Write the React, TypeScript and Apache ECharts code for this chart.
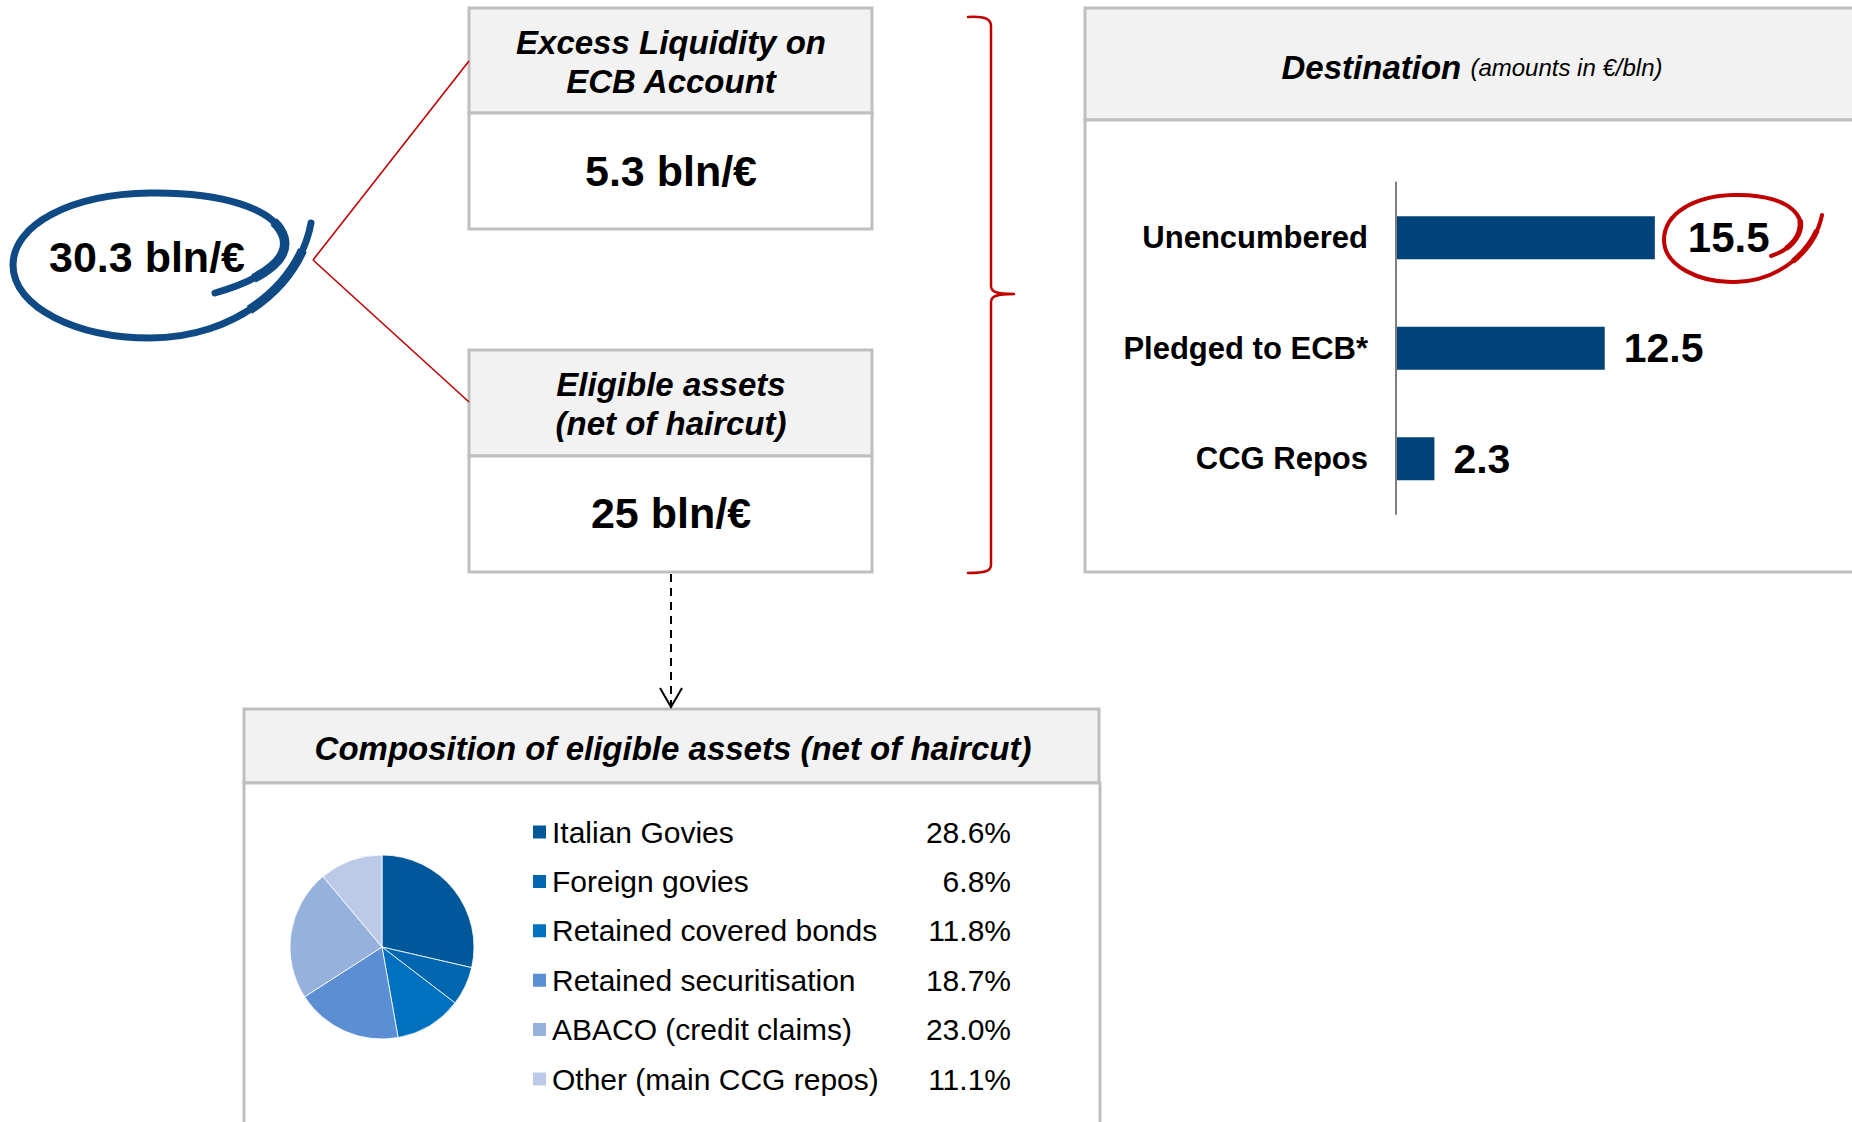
import React, { useEffect, useRef } from "react";
import * as echarts from "echarts";

// ---------- data ----------
const totalLabel = "30.3 bln/€";
const excessTitle = "Excess Liquidity on\nECB Account";
const excessValue = "5.3 bln/€";
const eligibleTitle = "Eligible assets\n(net of haircut)";
const eligibleValue = "25 bln/€";
const destinationTitle = "Destination";
const destinationSubtitle = "(amounts in €/bln)";
const destinationCategories = ["Unencumbered", "Pledged to ECB*", "CCG Repos"];
const destinationValues = [15.5, 12.5, 2.3];
const compositionTitle = "Composition of eligible assets (net of haircut)";
const compositionNames = [
  "Italian Govies",
  "Foreign govies",
  "Retained covered bonds",
  "Retained securitisation",
  "ABACO (credit claims)",
  "Other (main CCG repos)",
];
const compositionShares = [28.6, 6.8, 11.8, 18.7, 23.0, 11.1];
const compositionLabels = ["28.6%", "6.8%", "11.8%", "18.7%", "23.0%", "11.1%"];
const compositionColors = ["#00589a", "#0066b0", "#0070c0", "#5b8ed3", "#95b1dc", "#bccae8"];

const FONT = "'Liberation Sans', Arial, Helvetica, sans-serif";
const BORDER = "#bfbfbf";
const HEADER = "#f2f2f2";
const RED = "#c00000";
const OVAL_BLUE = "#0f4a85";

const BLUE_SWOOSH =
  "M 215 293 C 255 282 290 262 284 238 C 276 208 220 192 150 193 C 70 194 13 225 13 265 C 13 308 78 338 150 338 C 235 338 300 285 311 223";
const BLUE_THICK_A =
  "M 253.6 278.4 C 274.5 267.5 287.9 253.6 284 238 C 282.4 232 278.9 226.6 273.7 221.7";
const BLUE_THICK_B = "M 249.5 309.8 C 273.6 294.3 291.9 273.4 302.5 250.1";
const RED_SWOOSH =
  "M 1771 256 C 1790 250 1803 235 1800 220 C 1792 200 1760 194 1733 195 C 1695 196 1664 213 1664 240 C 1664 266 1700 283 1735 282 C 1780 281 1815 250 1822 215";
const RED_THICK_A = "M 1786.2 248.4 C 1796.4 241 1802.1 230.5 1800 220";
const RED_THICK_B = "M 1792.8 261.3 C 1803.4 252.7 1811.8 242 1817 230.4";
const BRACE =
  "M 968 17 C 985 16 991 19 991 26 L 991 286 C 991 292 997 294 1014 294 C 997 294 991 296 991 302 L 991 565 C 991 571 985 573 968 573";

let registered = false;
function registerShapes() {
  if (registered) return;
  registered = true;
  const reg = (name: string, d: string) =>
    echarts.graphic.registerShape(name, echarts.graphic.extendPath(d, {}) as any);
  reg("blueSwoosh", BLUE_SWOOSH);
  reg("blueThickA", BLUE_THICK_A);
  reg("blueThickB", BLUE_THICK_B);
  reg("redSwoosh", RED_SWOOSH);
  reg("redThickA", RED_THICK_A);
  reg("redThickB", RED_THICK_B);
  reg("brace", BRACE);
}

function txt(x: number, y: number, text: string, size: number, weight: string, style: string, extra: any = {}) {
  return {
    type: "text",
    x,
    y,
    z: 10,
    style: {
      text,
      fontSize: size,
      fontWeight: weight,
      fontStyle: style,
      fontFamily: FONT,
      fill: "#000",
      align: "center",
      verticalAlign: "middle",
      textAlign: "center",
      textVerticalAlign: "middle",
      ...extra,
    },
  };
}

function box(x: number, y: number, w: number, h: number, fill: string) {
  return {
    type: "rect",
    z: -10,
    shape: { x, y, width: w, height: h },
    style: { fill, stroke: BORDER, lineWidth: 3 },
  };
}

function stroke(type: string, color: string, width: number, z: number, cap = "round") {
  return {
    type,
    z,
    x: 0,
    y: 0,
    style: { fill: "none", stroke: color, lineWidth: width, lineCap: cap, lineJoin: "round" },
  };
}

export default function App() {
  const ref = useRef<HTMLDivElement>(null);

  useEffect(() => {
    if (!ref.current) return;
    registerShapes();
    const chart = echarts.init(ref.current, undefined, { renderer: "svg" });

    const pxPerUnit = 16.7;
    const axisMax = 20;

    const legendRich: any = {
      n: { fontSize: 30, fontFamily: FONT, color: "#000", width: 379, lineHeight: 30 },
      v: { fontSize: 30, fontFamily: FONT, color: "#000", width: 80, align: "right", lineHeight: 30 },
    };

    const option: any = {
      animation: false,
      backgroundColor: "#ffffff",
      graphic: [
        // boxes
        box(469, 8, 403, 105, HEADER),
        box(469, 113, 403, 116, "#ffffff"),
        box(469, 350, 403, 106, HEADER),
        box(469, 456, 403, 116, "#ffffff"),
        box(1085, 8, 790, 112, HEADER),
        box(1085, 120, 790, 452, "#ffffff"),
        box(244, 709, 855, 74, HEADER),
        box(244, 783, 856, 360, "#ffffff"),
        // connectors
        { type: "line", z: 2, shape: { x1: 313, y1: 260, x2: 469, y2: 61 }, style: { stroke: RED, lineWidth: 1.6 } },
        { type: "line", z: 2, shape: { x1: 313, y1: 260, x2: 469, y2: 402 }, style: { stroke: RED, lineWidth: 1.6 } },
        stroke("brace", RED, 2.5, 2),
        {
          type: "line",
          z: 2,
          shape: { x1: 671, y1: 574, x2: 671, y2: 706 },
          style: { stroke: "#000", lineWidth: 2, lineDash: [8, 6] },
        },
        {
          type: "polyline",
          z: 2,
          shape: { points: [[660, 688], [671, 707], [682, 688]] },
          style: { fill: "none", stroke: "#000", lineWidth: 2 },
        },
        // total oval
        stroke("blueSwoosh", OVAL_BLUE, 7, 3),
        stroke("blueThickA", OVAL_BLUE, 9.5, 3, "butt"),
        stroke("blueThickB", OVAL_BLUE, 9.5, 3, "butt"),
        txt(147, 257, totalLabel, 43, "bold", "normal"),
        // box texts
        txt(671, 62, excessTitle, 33, "bold", "italic", { lineHeight: 39 }),
        txt(671, 171, excessValue, 43, "bold", "normal"),
        txt(671, 404, eligibleTitle, 33, "bold", "italic", { lineHeight: 39 }),
        txt(671, 513, eligibleValue, 43, "bold", "normal"),
        txt(1472, 67, `{a|${destinationTitle}} {b|${destinationSubtitle}}`, 33, "bold", "italic", {
          rich: {
            a: { fontSize: 33, fontWeight: "bold", fontStyle: "italic", fontFamily: FONT, fill: "#000" },
            b: { fontSize: 24, fontWeight: "normal", fontStyle: "italic", fontFamily: FONT, fill: "#000" },
          },
        }),
        txt(673, 748, compositionTitle, 33, "bold", "italic"),
        // highlight circle around 15.5
        stroke("redSwoosh", RED, 4, 12),
        stroke("redThickA", RED, 5.5, 12, "butt"),
        stroke("redThickB", RED, 5.5, 12, "butt"),
      ],
      grid: {
        left: 1396,
        top: 182.5,
        width: pxPerUnit * axisMax,
        height: 331.5,
        containLabel: false,
      },
      xAxis: { type: "value", min: 0, max: axisMax, show: false },
      yAxis: {
        type: "category",
        inverse: true,
        z: 20,
        data: destinationCategories,
        axisLine: { show: true, lineStyle: { color: "#7f7f7f", width: 2 } },
        axisTick: { show: false },
        splitLine: { show: false },
        axisLabel: {
          fontSize: 31,
          fontWeight: "bold",
          fontFamily: FONT,
          color: "#000",
          margin: 28,
        },
      },
      legend: {
        orient: "vertical",
        left: 526,
        top: 812,
        itemWidth: 15,
        itemHeight: 15,
        itemGap: 19.4,
        icon: "rect",
        selectedMode: false,
        z: 20,
        data: compositionNames,
        formatter: (name: string) => {
          const i = compositionNames.indexOf(name);
          return `{n|${name}}{v|${compositionLabels[i]}}`;
        },
        textStyle: { fontSize: 30, fontFamily: FONT, color: "#000", rich: legendRich },
      },
      series: [
        {
          type: "bar",
          data: destinationValues.map((v, i) =>
            i === 0 ? { value: v, label: { distance: 33, fontSize: 42 } } : { value: v }
          ),
          barWidth: 43,
          itemStyle: { color: "#00437a" },
          label: {
            show: true,
            position: "right",
            distance: 19,
            fontSize: 41,
            fontWeight: "bold",
            fontFamily: FONT,
            color: "#000",
          },
          z: 5,
        },
        {
          type: "pie",
          center: [382, 947],
          radius: 92,
          startAngle: 90,
          clockwise: true,
          label: { show: false },
          labelLine: { show: false },
          emphasis: { disabled: true },
          itemStyle: { borderColor: "#ffffff", borderWidth: 0.8 },
          data: compositionNames.map((n, i) => ({
            name: n,
            value: compositionShares[i],
            itemStyle: { color: compositionColors[i] },
          })),
        },
      ],
    };

    chart.setOption(option);
    return () => chart.dispose();
  }, []);

  return (
    <div
      ref={ref}
      style={{ position: "fixed", left: 0, top: 0, width: 1852, height: 1122, background: "#fff" }}
    />
  );
}
